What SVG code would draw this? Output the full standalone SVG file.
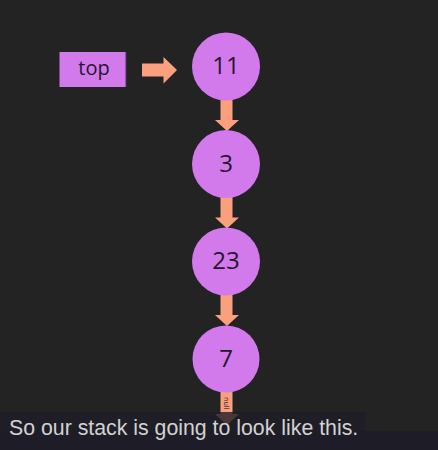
<svg xmlns="http://www.w3.org/2000/svg" width="438" height="450" viewBox="0 0 438 450">
<style>
.node{fill:#d279ec}
.lbl{font-family:"Open Sans","Noto Sans",sans-serif;fill:#26162c;text-anchor:middle}
.num{font-size:24px}
.arrow{fill:#fba07e}
.cap{font-family:"Liberation Sans",Arial,sans-serif;font-size:21.3px;fill:#d2d2d2}
</style>
<rect width="438" height="450" fill="#232323"/>
<g id="top">
<rect x="59.5" y="52" width="66.5" height="35" class="node"/>
<line x1="126" y1="52" x2="126" y2="87" stroke="#5a2a6a" stroke-width="1"/>
<text x="94" y="75" class="lbl" font-size="20">top</text>
</g>
<g id="connectors">
<polygon class="arrow" points="142,63.5 163.5,63.5 163.5,57 177,70 163.5,83.5 163.5,76.5 142,76.5"/>
<polygon class="arrow" points="220.5,98 232.5,98 232.5,120 239,120 227,131 215,120 220.5,120"/>
<polygon class="arrow" points="220.5,195.5 232.5,195.5 232.5,217.5 239,217.5 227,228.5 215,217.5 220.5,217.5"/>
<polygon class="arrow" points="220.5,293 232.5,293 232.5,315 239,315 227,326 215,315 220.5,315"/>
<polygon class="arrow" points="220.5,390 232.5,390 232.5,414 239,414 227,425 215,414 220.5,414"/>
<text transform="translate(224,397) rotate(90)" font-family="'DejaVu Sans',sans-serif" font-size="7" fill="#2a1a30">null</text>
</g>
<g id="n11">
<circle cx="226" cy="66.5" r="34" class="node"/>
<text x="226" y="74" class="lbl num">11</text>
</g>
<g id="n3">
<circle cx="226" cy="164" r="34" class="node"/>
<text x="226" y="171.5" class="lbl num">3</text>
</g>
<g id="n23">
<circle cx="226" cy="261.5" r="34" class="node"/>
<text x="226" y="269" class="lbl num">23</text>
</g>
<g id="n7">
<circle cx="226" cy="359" r="33.5" class="node"/>
<text x="226" y="366.5" class="lbl num">7</text>
</g>
<g id="caption">
<rect x="0" y="412" width="365" height="19" fill="#1e1d27" opacity="0.8"/>
<rect x="0" y="431" width="438" height="19" fill="#1e1d27"/>
<text x="9" y="434.5" class="cap">So our stack is going to look like this.</text>
</g>
</svg>
